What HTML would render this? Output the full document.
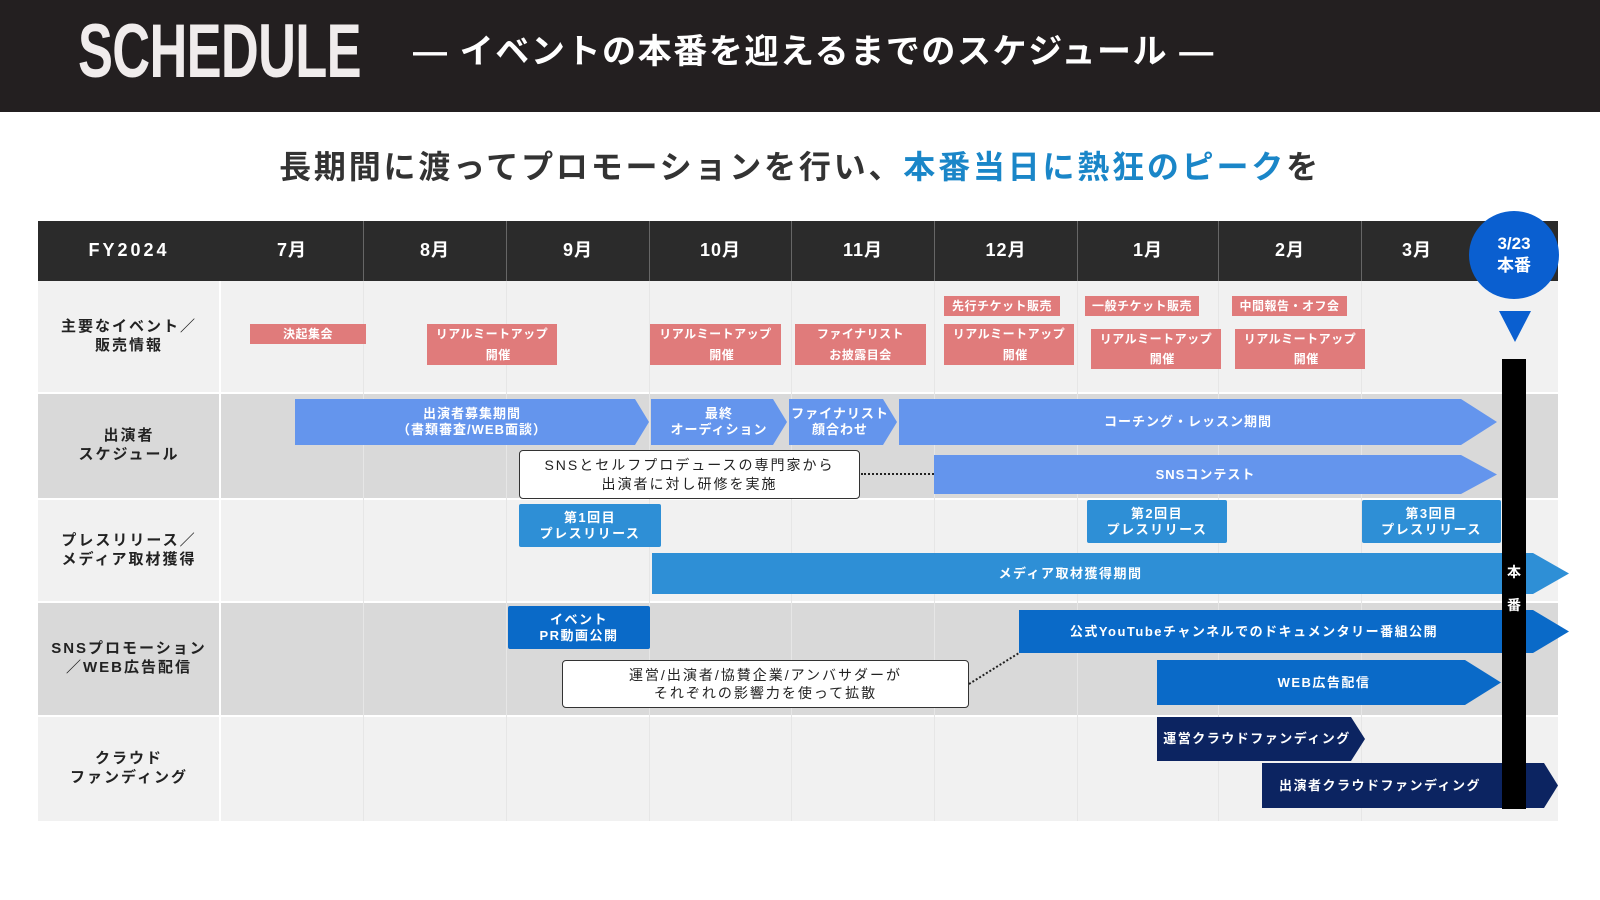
<!DOCTYPE html>
<html><head><meta charset="utf-8">
<style>
*{margin:0;padding:0;box-sizing:border-box}
body{width:1600px;height:900px;background:#fff;position:relative;overflow:hidden;font-family:"Liberation Sans","Noto Sans CJK JP",sans-serif;font-weight:bold}
.a{position:absolute}
.c{display:flex;align-items:center;justify-content:center;text-align:center;color:#fff;line-height:1.2}
.pk{background:#e07b7b;font-size:12px;letter-spacing:0.5px}
.ar{clip-path:polygon(0 0,calc(100% - 36px) 0,100% 50%,calc(100% - 36px) 100%,0 100%)}
.ars{clip-path:polygon(0 0,calc(100% - 14px) 0,100% 50%,calc(100% - 14px) 100%,0 100%)}
.lb{background:#6495ed;font-size:13px;letter-spacing:1px}
.mb{background:#2e8fd6;font-size:13px;letter-spacing:1.5px}
.db{background:#0a6ac8;font-size:13px;letter-spacing:1.5px}
.nv{background:#0c2461;font-size:13px;letter-spacing:1.5px}
.hd{background:#2b2b2b;color:#fff;font-size:18px;letter-spacing:1px}
.rl{color:#222;font-size:15px;letter-spacing:2px;line-height:1.25}
.wb{background:#fff;border:1.5px solid #333;border-radius:4px;color:#222;font-size:14px;letter-spacing:2px;font-weight:normal}
</style></head><body>
<div class="a" style="left:0;top:0;width:1600px;height:112px;background:#231f20"></div>
<div class="a" style="left:78px;top:14px;color:#f0ecec;font-size:76px;font-weight:bold;transform:scaleX(0.69);transform-origin:left top;letter-spacing:-1px;line-height:1">SCHEDULE</div>
<div class="a" style="left:413px;top:32px;color:#fff;font-size:34px;line-height:1.2;letter-spacing:1.6px">— イベントの本番を迎えるまでのスケジュール —</div>
<div class="a" style="left:0;top:142px;width:1600px;text-align:center;font-size:32px;color:#333;letter-spacing:2.8px">長期間に渡ってプロモーションを行い、<span style="color:#1a86c8">本番当日に熱狂のピーク</span>を</div>

<div class="a" style="left:38px;top:281px;width:1520px;height:112px;background:#f1f1f1"></div>
<div class="a" style="left:38px;top:393px;width:1520px;height:106px;background:#d9d9d9"></div>
<div class="a" style="left:38px;top:499px;width:1520px;height:103px;background:#f1f1f1"></div>
<div class="a" style="left:38px;top:602px;width:1520px;height:114px;background:#d9d9d9"></div>
<div class="a" style="left:38px;top:716px;width:1520px;height:105px;background:#f1f1f1"></div>
<div class="a" style="left:38px;top:392px;width:1520px;height:2px;background:#fff"></div>
<div class="a" style="left:38px;top:498px;width:1520px;height:2px;background:#fff"></div>
<div class="a" style="left:38px;top:601px;width:1520px;height:2px;background:#fff"></div>
<div class="a" style="left:38px;top:715px;width:1520px;height:2px;background:#fff"></div>
<div class="a" style="left:219px;top:281px;width:2px;height:540px;background:#fff"></div>
<div class="a" style="left:363px;top:281px;width:1px;height:540px;background:#e6e6e6"></div>
<div class="a" style="left:506px;top:281px;width:1px;height:540px;background:#e6e6e6"></div>
<div class="a" style="left:649px;top:281px;width:1px;height:540px;background:#e6e6e6"></div>
<div class="a" style="left:791px;top:281px;width:1px;height:540px;background:#e6e6e6"></div>
<div class="a" style="left:934px;top:281px;width:1px;height:540px;background:#e6e6e6"></div>
<div class="a" style="left:1077px;top:281px;width:1px;height:540px;background:#e6e6e6"></div>
<div class="a" style="left:1218px;top:281px;width:1px;height:540px;background:#e6e6e6"></div>
<div class="a" style="left:1361px;top:281px;width:1px;height:540px;background:#e6e6e6"></div>

<div class="a c hd" style="left:38px;top:221px;width:182px;height:60px;background:#2b2b2b;letter-spacing:3px">FY2024</div>
<div class="a" style="left:220px;top:221px;width:1338px;height:60px;background:#2b2b2b"></div>
<div class="a c hd" style="left:221px;top:221px;width:142px;height:60px">7月</div>
<div class="a c hd" style="left:364px;top:221px;width:142px;height:60px">8月</div>
<div class="a c hd" style="left:507px;top:221px;width:142px;height:60px">9月</div>
<div class="a c hd" style="left:650px;top:221px;width:141px;height:60px">10月</div>
<div class="a c hd" style="left:792px;top:221px;width:142px;height:60px">11月</div>
<div class="a c hd" style="left:935px;top:221px;width:142px;height:60px">12月</div>
<div class="a c hd" style="left:1078px;top:221px;width:140px;height:60px">1月</div>
<div class="a c hd" style="left:1219px;top:221px;width:142px;height:60px">2月</div>
<div class="a c hd" style="left:1362px;top:221px;width:110px;height:60px">3月</div>
<div class="a" style="left:363px;top:221px;width:1px;height:60px;background:#666"></div>
<div class="a" style="left:506px;top:221px;width:1px;height:60px;background:#666"></div>
<div class="a" style="left:649px;top:221px;width:1px;height:60px;background:#666"></div>
<div class="a" style="left:791px;top:221px;width:1px;height:60px;background:#666"></div>
<div class="a" style="left:934px;top:221px;width:1px;height:60px;background:#666"></div>
<div class="a" style="left:1077px;top:221px;width:1px;height:60px;background:#666"></div>
<div class="a" style="left:1218px;top:221px;width:1px;height:60px;background:#666"></div>
<div class="a" style="left:1361px;top:221px;width:1px;height:60px;background:#666"></div>
<div class="a c" style="left:1469px;top:211px;width:90px;height:88px;border-radius:50%;background:#0a5fd0;font-size:17px;line-height:1.3">3/23<br>本番</div>
<div class="a" style="left:1499px;top:311px;width:0;height:0;border-left:16px solid transparent;border-right:16px solid transparent;border-top:31px solid #0a5fd0"></div>

<div class="a c rl" style="left:38px;top:281px;width:182px;height:112px">主要なイベント／<br>販売情報</div>
<div class="a c rl" style="left:38px;top:393px;width:182px;height:106px">出演者<br>スケジュール</div>
<div class="a c rl" style="left:38px;top:499px;width:182px;height:103px">プレスリリース／<br>メディア取材獲得</div>
<div class="a c rl" style="left:38px;top:602px;width:182px;height:114px">SNSプロモーション<br>／WEB広告配信</div>
<div class="a c rl" style="left:38px;top:716px;width:182px;height:105px">クラウド<br>ファンディング</div>

<div class="a c pk" style="left:250px;top:324px;width:116px;height:20px">決起集会</div>
<div class="a c pk" style="left:427px;top:324px;width:130px;height:41px;line-height:1.7">リアルミートアップ<br>　開催</div>
<div class="a c pk" style="left:650px;top:324px;width:131px;height:41px;line-height:1.7">リアルミートアップ<br>　開催</div>
<div class="a c pk" style="left:795px;top:324px;width:131px;height:41px;line-height:1.7">ファイナリスト<br>お披露目会</div>
<div class="a c pk" style="left:944px;top:324px;width:130px;height:41px;line-height:1.7">リアルミートアップ<br>　開催</div>
<div class="a c pk" style="left:944px;top:296px;width:116px;height:20px">先行チケット販売</div>
<div class="a c pk" style="left:1085px;top:296px;width:114px;height:20px">一般チケット販売</div>
<div class="a c pk" style="left:1232px;top:296px;width:115px;height:20px">中間報告・オフ会</div>
<div class="a c pk" style="left:1091px;top:329px;width:130px;height:40px;line-height:1.7">リアルミートアップ<br>　開催</div>
<div class="a c pk" style="left:1235px;top:329px;width:130px;height:40px;line-height:1.7">リアルミートアップ<br>　開催</div>

<div class="a c lb ars" style="left:295px;top:399px;width:354px;height:46px">出演者募集期間<br>（書類審査/WEB面談）</div>
<div class="a c lb ars" style="left:651px;top:399px;width:136px;height:46px">最終<br>オーディション</div>
<div class="a c lb ars" style="left:789px;top:399px;width:108px;height:46px;padding-right:6px">ファイナリスト<br>顔合わせ</div>
<div class="a c lb ar" style="left:899px;top:399px;width:598px;height:46px;padding-right:20px">コーチング・レッスン期間</div>
<div class="a c lb ar" style="left:934px;top:455px;width:563px;height:39px;padding-right:20px">SNSコンテスト</div>
<div class="a c wb" style="left:519px;top:450px;width:341px;height:49px;line-height:1.3">SNSとセルフプロデュースの専門家から<br>出演者に対し研修を実施</div>
<div class="a" style="left:861px;top:473px;width:73px;height:0;border-top:2px dotted #222"></div>

<div class="a c mb" style="left:519px;top:504px;width:142px;height:43px;border-radius:2px">第1回目<br>プレスリリース</div>
<div class="a c mb" style="left:1087px;top:500px;width:140px;height:43px;border-radius:2px">第2回目<br>プレスリリース</div>
<div class="a c mb" style="left:1362px;top:500px;width:139px;height:43px;border-radius:2px">第3回目<br>プレスリリース</div>
<div class="a c mb ar" style="left:652px;top:553px;width:917px;height:41px;padding-right:80px">メディア取材獲得期間</div>

<div class="a c db" style="left:508px;top:606px;width:142px;height:43px;border-radius:2px">イベント<br>PR動画公開</div>
<div class="a c db ar" style="left:1019px;top:610px;width:550px;height:43px;padding-right:80px">公式YouTubeチャンネルでのドキュメンタリー番組公開</div>
<div class="a c db ar" style="left:1157px;top:660px;width:344px;height:45px;padding-right:10px">WEB広告配信</div>
<div class="a c wb" style="left:562px;top:660px;width:407px;height:48px;line-height:1.3">運営/出演者/協賛企業/アンバサダーが<br>それぞれの影響力を使って拡散</div>
<svg class="a" style="left:960px;top:645px" width="70" height="50"><line x1="9" y1="39" x2="59" y2="8" stroke="#222" stroke-width="2" stroke-dasharray="2,2"/></svg>

<div class="a c nv ars" style="left:1157px;top:717px;width:208px;height:44px;padding-right:8px">運営クラウドファンディング</div>
<div class="a c nv ars" style="left:1262px;top:763px;width:296px;height:45px;padding-right:60px">出演者クラウドファンディング</div>

<div class="a" style="left:1502px;top:359px;width:24px;height:450px;background:#000"></div>
<div class="a" style="left:1502px;top:556px;width:24px;color:#fff;font-size:14px;text-align:center;line-height:33px">本<br>番</div>
</body></html>
